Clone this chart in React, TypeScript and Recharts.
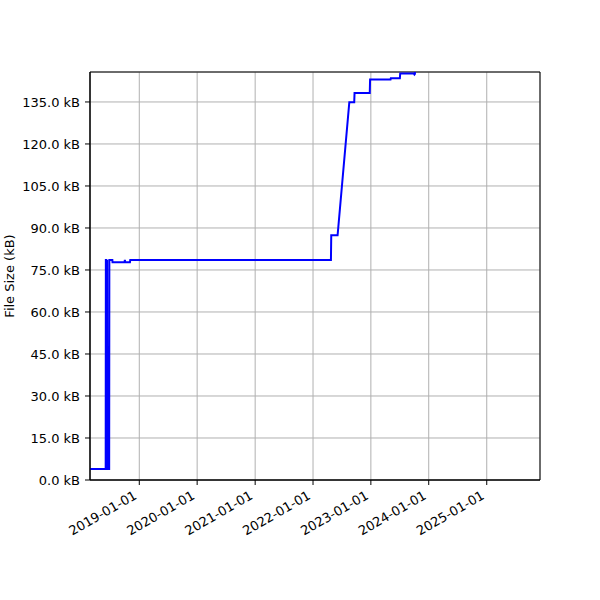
import React from 'react';
import { LineChart, Line, XAxis, YAxis, CartesianGrid, ReferenceArea } from 'recharts';

const dates = [
  '2018-02-24', '2018-06-03', '2018-06-04', '2018-06-07', '2018-06-08', '2018-06-12',
  '2018-06-14', '2018-06-25', '2018-06-26', '2018-07-15', '2018-07-16', '2018-09-30',
  '2018-10-02', '2018-10-04', '2018-11-03', '2018-11-05', '2022-04-24', '2022-04-26',
  '2022-06-05', '2022-08-18', '2022-09-18', '2022-09-20', '2022-12-25', '2022-12-27',
  '2023-05-05', '2023-05-07', '2023-07-03', '2023-07-05', '2023-09-29', '2023-10-03',
  '2023-10-06', '2023-10-08', '2025-07-20',
];
const sizes = [
  3.9, 3.9, 78.6, 78.6, 3.9, 78.6,
  3.9, 3.9, 78.6, 78.6, 77.8, 77.8,
  78.6, 77.8, 77.8, 78.6, 78.6, 87.4,
  87.4, 134.9, 134.9, 138.2, 138.2, 143.0,
  143.0, 143.5, 143.5, 145.2, 145.2, 144.8,
  145.0, 160, 175,
];
const xTickDates = ['2019-01-01', '2020-01-01', '2021-01-01', '2022-01-01', '2023-01-01', '2024-01-01', '2025-01-01'];
const yTicks = [0, 15, 30, 45, 60, 75, 90, 105, 120, 135];
const xDomainDates = ['2018-02-24', '2025-12-03'];
const yDomain = [0, 145.7];

const toTs = (s: string) => Date.parse(s + 'T00:00:00Z');
const data = dates.map((d, i) => ({ t: toTs(d), size: sizes[i] }));
const xTicks = xTickDates.map(toTs);
const xDomain = xDomainDates.map(toTs);

const FONT = 'DejaVu Sans';
const fmtDate = (ts: number) => new Date(ts).toISOString().slice(0, 10);

const XTick = (props: any) => {
  const { x, y, payload } = props;
  const tx = x - 1.5;
  const ty = y + 10;
  return (
    <text
      x={tx}
      y={ty}
      transform={`rotate(-30, ${tx}, ${ty})`}
      textAnchor="end"
      fill="#000"
      fontSize={13}
      fontFamily={FONT}
    >
      {fmtDate(payload.value)}
    </text>
  );
};

const YLabel = (props: any) => {
  const vb = props.viewBox || { x: 10, y: 72, width: 80, height: 408 };
  const cx = 9;
  const cy = vb.y + vb.height / 2;
  return (
    <text
      x={cx}
      y={cy}
      transform={`rotate(-90, ${cx}, ${cy})`}
      textAnchor="middle"
      dominantBaseline="central"
      fill="#000"
      fontSize={13}
      fontFamily={FONT}
    >
      File Size (kB)
    </text>
  );
};

export default function App() {
  return (
    <div style={{ position: 'absolute', left: 0, top: 0, width: 600, height: 600, background: '#fff' }}>
      <LineChart width={600} height={600} data={data} margin={{ top: 72, right: 60, left: 10, bottom: 60 }}>
        <CartesianGrid stroke="#b0b0b0" strokeWidth={1} />
        <XAxis
          dataKey="t"
          type="number"
          domain={xDomain}
          ticks={xTicks}
          allowDataOverflow
          height={60}
          interval={0}
          tick={<XTick />}
          tickSize={5}
          tickMargin={3}
          axisLine={{ stroke: '#000', strokeWidth: 1 }}
          tickLine={{ stroke: '#000', strokeWidth: 1 }}
        />
        <YAxis
          type="number"
          domain={yDomain}
          ticks={yTicks}
          allowDataOverflow
          width={80}
          interval={0}
          tickFormatter={(v: number) => `${v.toFixed(1)} kB`}
          tick={{ fill: '#000', fontSize: 13, fontFamily: FONT }}
          tickSize={5}
          tickMargin={5}
          axisLine={{ stroke: '#000', strokeWidth: 1 }}
          tickLine={{ stroke: '#000', strokeWidth: 1 }}
          label={{ content: <YLabel /> }}
        />
        <Line
          dataKey="size"
          type="linear"
          stroke="#0000ff"
          strokeWidth={2}
          dot={false}
          isAnimationActive={false}
        />
        <ReferenceArea
          x1={xDomain[0]}
          x2={xDomain[1]}
          y1={yDomain[0]}
          y2={yDomain[1]}
          fill="none"
          stroke="#000"
          strokeWidth={1}
          ifOverflow="visible"
        />
      </LineChart>
    </div>
  );
}
